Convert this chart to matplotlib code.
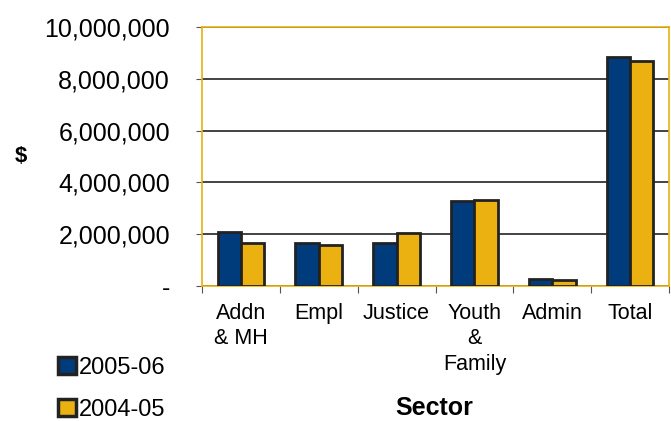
import matplotlib
matplotlib.use("Agg")
import numpy as np
import matplotlib.pyplot as plt
from matplotlib.ticker import FuncFormatter
from matplotlib.patches import Patch

# data
sectors = ["Addn\n& MH", "Empl", "Justice", "Youth\n&\nFamily", "Admin", "Total"]
y2005 = [2070000, 1660000, 1660000, 3290000, 270000, 8860000]
y2004 = [1660000, 1580000, 2040000, 3320000, 220000, 8690000]
series_names = ["2005-06", "2004-05"]

blue = "#003B7B"
gold = "#EAB110"
edge = "#222222"

plt.rcParams['font.family'] = ['Liberation Sans', 'DejaVu Sans']

fig = plt.figure(figsize=(6.71, 4.21), dpi=100)
ax = fig.add_axes([202/671, 1-286/421, (669-202)/671, (286-27)/421])

x = np.arange(len(sectors))
w = 0.3
ax.bar(x - w/2, y2005, w, color=blue, edgecolor=edge, linewidth=2, zorder=3)
ax.bar(x + w/2, y2004, w, color=gold, edgecolor=edge, linewidth=2, zorder=3)

ax.set_ylim(0, 10000000)
ax.set_xlim(-0.5, len(sectors) - 0.5)
ax.set_yticks(np.arange(0, 10000001, 2000000))
ax.yaxis.set_major_formatter(FuncFormatter(lambda v, p: "-" if v == 0 else "{:,.0f}".format(v)))
ax.yaxis.grid(True, color="#222222", linewidth=1.2, zorder=0)
ax.tick_params(axis='y', labelsize=18, length=4, color="#555555", pad=19)

# category ticks at group boundaries, labels centred
ax.set_xticks(np.arange(-0.5, len(sectors), 1))
ax.set_xticklabels([])
ax.set_xticks(x, minor=True)
ax.set_xticklabels(sectors, minor=True, fontsize=15.5, va='top', linespacing=1.3)
ax.tick_params(axis='x', which='major', length=5, color="#555555")
ax.tick_params(axis='x', which='minor', length=0, pad=12)

for s in ax.spines.values():
    s.set_color("#E8B010")
    s.set_linewidth(1.2)

fig.text(21/671, 1-156/421, "$", fontsize=16, fontweight='bold', ha='center', va='center')
fig.text(434/671, 1-408/421, "Sector", fontsize=18, fontweight='bold', ha='center', va='center')

handles = [Patch(facecolor=blue, edgecolor=edge, linewidth=2.5),
           Patch(facecolor=gold, edgecolor=edge, linewidth=2.5)]
fig.legend(handles, series_names, loc='center left', bbox_to_anchor=(46/671, 1-389/421),
           frameon=False, fontsize=17, handlelength=0.75, handleheight=0.75,
           handletextpad=0.15, labelspacing=0.85, borderpad=0)

fig.savefig("out.png", dpi=100)
